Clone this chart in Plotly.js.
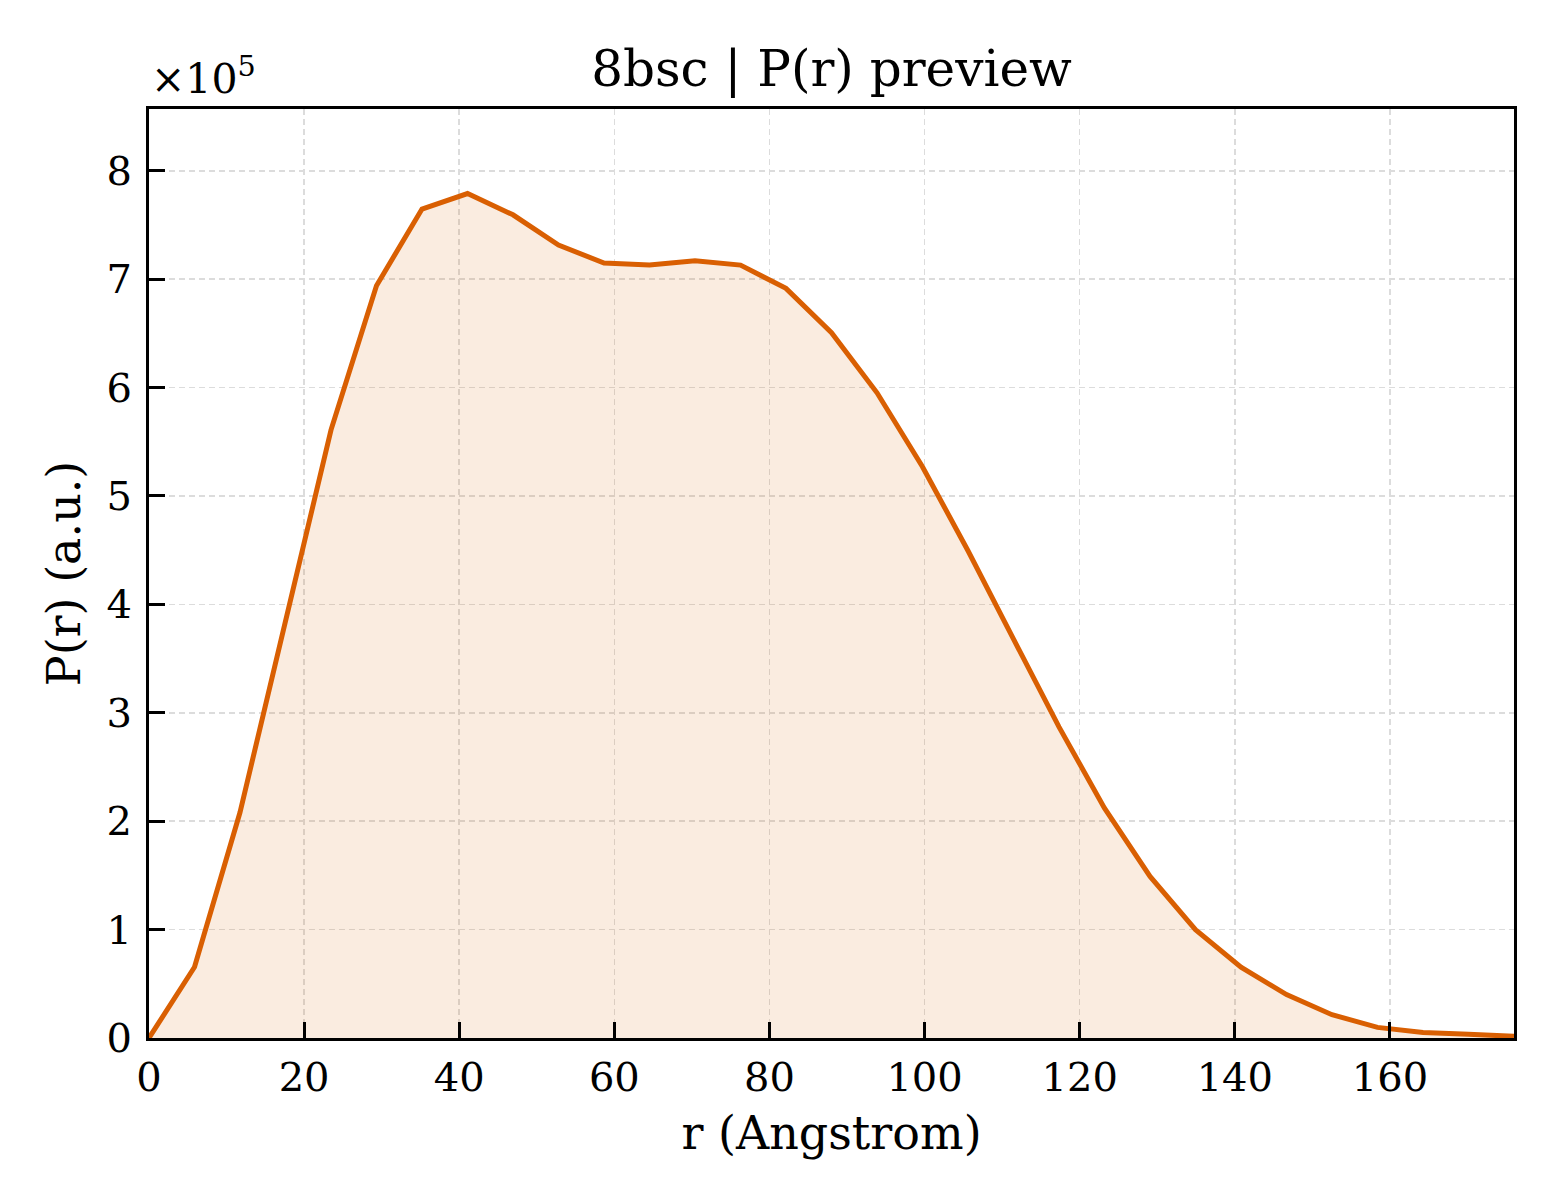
<!DOCTYPE html>
<html>
<head>
<meta charset="utf-8">
<script src="https://cdn.plot.ly/plotly-3.0.1.min.js"></script>
<style>html,body{margin:0;padding:0;background:#fff;}#chart{width:1560px;height:1200px;}</style>
</head>
<body>
<div id="chart"></div>
<script>
const rValues = [0, 5.87, 11.73, 17.6, 23.47, 29.33, 35.2, 41.07, 46.93, 52.8, 58.67, 64.53, 70.4, 76.27, 82.13, 88.0, 93.87, 99.73, 105.6, 111.47, 117.33, 123.2, 129.07, 134.93, 140.8, 146.67, 152.53, 158.4, 164.27, 170.13, 176.0];
const prValues = [0, 65500, 208000, 386000, 561000, 694000, 764700, 779000, 759400, 731500, 714900, 713000, 717000, 713000, 691500, 650600, 595200, 527000, 449500, 368000, 287000, 212000, 149000, 100000, 65300, 40000, 21500, 9800, 5000, 3500, 1500];
const yTickVals = [0, 100000, 200000, 300000, 400000, 500000, 600000, 700000, 800000];
const yTickText = ['0', '1', '2', '3', '4', '5', '6', '7', '8'];
const xTickVals = [0, 20, 40, 60, 80, 100, 120, 140, 160];
const xTickText = ['0', '20', '40', '60', '80', '100', '120', '140', '160'];

const serif = 'DejaVu Serif, serif';
const trace = {
  x: rValues, y: prValues, type: 'scatter', mode: 'lines',
  line: {color: '#d95f02', width: 5},
  fill: 'tozeroy', fillcolor: 'rgba(217,95,2,0.12)',
  hoverinfo: 'skip'
};
const axisCommon = {
  showline: true, linecolor: '#000', linewidth: 3, mirror: true,
  ticks: 'inside', ticklen: 16, tickwidth: 3, tickcolor: '#000',
  showgrid: true, gridcolor: '#dcdcdc', gridwidth: 1.5, griddash: '6px,4px',
  zeroline: false, layer: 'above traces',
  tickfont: {family: serif, size: 40, color: '#000'}
};
const layout = {
  width: 1560, height: 1200,
  margin: {l: 149, r: 46, t: 109, b: 162},
  paper_bgcolor: '#fff', plot_bgcolor: '#fff',
  showlegend: false,
  title: {text: '8bsc | P(r) preview', font: {family: serif, size: 50, color: '#000'},
          x: 0.533, xanchor: 'center', y: 0.943, yanchor: 'middle', xref: 'container', yref: 'container'},
  xaxis: Object.assign({}, axisCommon, {
    range: [0, 176], tickvals: xTickVals, ticktext: xTickText,
    ticklabelstandoff: 2,
    title: {text: 'r (Angstrom)', font: {family: serif, size: 46, color: '#000'}, standoff: 18}
  }),
  yaxis: Object.assign({}, axisCommon, {
    range: [0, 857000], tickvals: yTickVals, ticktext: yTickText,
    ticklabelstandoff: 6,
    title: {text: 'P(r) (a.u.)', font: {family: serif, size: 46, color: '#000'}, standoff: 12}
  }),
  annotations: [{
    text: '×10<sup>5</sup>', xref: 'paper', yref: 'paper', x: 0, y: 1,
    xanchor: 'left', yanchor: 'bottom', yshift: 4, showarrow: false,
    font: {family: serif, size: 41, color: '#000'}
  }]
};
Plotly.newPlot('chart', [trace], layout, {displayModeBar: false, staticPlot: true});
</script>
</body>
</html>
